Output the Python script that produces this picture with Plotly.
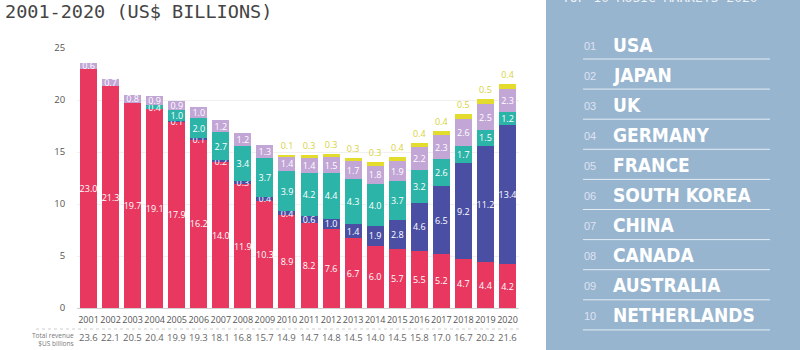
import plotly.graph_objects as go

years = [str(y) for y in range(2001, 2021)]
physical = [23.0, 21.3, 19.7, 19.1, 17.9, 16.2, 14.0, 11.9, 10.3, 8.9, 8.2, 7.6, 6.7, 6.0, 5.7, 5.5, 5.2, 4.7, 4.4, 4.2]
streaming = [0.0, 0.0, 0.0, 0.0, 0.1, 0.1, 0.2, 0.3, 0.4, 0.4, 0.6, 1.0, 1.4, 1.9, 2.8, 4.6, 6.5, 9.2, 11.2, 13.4]
downloads = [0.0, 0.0, 0.0, 0.4, 1.0, 2.0, 2.7, 3.4, 3.7, 3.9, 4.2, 4.4, 4.3, 4.0, 3.7, 3.2, 2.6, 1.7, 1.5, 1.2]
performance = [0.6, 0.7, 0.8, 0.9, 0.9, 1.0, 1.2, 1.2, 1.3, 1.4, 1.4, 1.5, 1.7, 1.8, 1.9, 2.2, 2.3, 2.6, 2.5, 2.3]
sync = [0.0, 0.0, 0.0, 0.0, 0.0, 0.0, 0.0, 0.0, 0.0, 0.1, 0.3, 0.3, 0.3, 0.3, 0.4, 0.4, 0.4, 0.5, 0.5, 0.4]
totals = [23.6, 22.1, 20.5, 20.4, 19.9, 19.3, 18.1, 16.8, 15.7, 14.9, 14.7, 14.8, 14.5, 14.0, 14.5, 15.8, 17.0, 16.7, 20.2, 21.6]
# which years show a label for a segment
streaming_shown = [False, False, False] + [True] * 17
downloads_shown = [False, False, False] + [True] * 17
sync_shown = [False] * 9 + [True] * 11

markets = ["USA", "JAPAN", "UK", "GERMANY", "FRANCE", "SOUTH KOREA", "CHINA", "CANADA", "AUSTRALIA", "NETHERLANDS"]
ranks = ["01", "02", "03", "04", "05", "06", "07", "08", "09", "10"]

RED = "#e8385f"
NAVY = "#4a4fa3"
TEAL = "#2cb4a8"
LILAC = "#c2a6d6"
YELLOW = "#e3dc2c"
PANEL = "#97b5cf"

W, H = 800, 350
def X(px):
    return px / W
def Y(py):
    return 1 - py / H

def labels(vals, shown=None):
    out = []
    for i, v in enumerate(vals):
        if shown is not None and not shown[i]:
            out.append("")
        else:
            out.append(f"{v:.1f}")
    return out

fig = go.Figure()
series = [
    ("Physical", physical, RED, None),
    ("Streaming", streaming, NAVY, streaming_shown),
    ("Downloads", downloads, TEAL, downloads_shown),
    ("Performance rights", performance, LILAC, None),
]
for name, vals, col, shown in series:
    fig.add_trace(go.Bar(
        x=years, y=vals, name=name, marker=dict(color=col, line=dict(width=0)),
        text=labels(vals, shown), textposition="inside", insidetextanchor="middle",
        constraintext="none", textangle=0,
        insidetextfont=dict(family="Open Sans", size=9, color="white"),
        hoverinfo="skip",
    ))
fig.add_trace(go.Bar(
    x=years, y=sync, name="Synchronisation", marker=dict(color=YELLOW, line=dict(width=0)),
    text=labels(sync, sync_shown), textposition="outside", constraintext="none", textangle=0,
    outsidetextfont=dict(family="Open Sans", size=9, color="#d9d23c"),
    cliponaxis=False, hoverinfo="skip",
))

shapes = []
# right panel
shapes.append(dict(type="rect", xref="paper", yref="paper", x0=X(546), x1=1.0, y0=0, y1=1,
                   fillcolor=PANEL, line=dict(width=0), layer="below"))
# separator above totals row
shapes.append(dict(type="line", xref="paper", yref="paper", x0=X(36), x1=X(520), y0=Y(329), y1=Y(329),
                   line=dict(color="#cfcfcf", width=1, dash="dot")))

annotations = []
annotations.append(dict(text="2001-2020 (US$ BILLIONS)", xref="paper", yref="paper", x=X(3), y=Y(12),
                        xanchor="left", yanchor="middle", showarrow=False,
                        font=dict(family="DejaVu Sans Mono", size=18.5, color="#444444")))
annotations.append(dict(text="TOP 10 MUSIC MARKETS 2020", xref="paper", yref="paper", x=X(560), y=Y(-2),
                        xanchor="left", yanchor="middle", showarrow=False,
                        font=dict(family="DejaVu Sans Mono", size=13, color="#eef3f8")))
annotations.append(dict(text="Total revenue<br>$US billions", xref="paper", yref="paper", x=X(76), y=Y(339),
                        xanchor="right", yanchor="middle", showarrow=False, align="right",
                        font=dict(family="Open Sans", size=6.5, color="#777777")))
for i, t in enumerate(totals):
    annotations.append(dict(text=f"{t:.1f}", xref="x", yref="paper", x=i, y=Y(337),
                            xanchor="center", yanchor="middle", showarrow=False,
                            font=dict(family="Open Sans", size=9.5, color="#666666")))

for i, (r, m) in enumerate(zip(ranks, markets)):
    cy = 45 + 30 * i
    ly = 59 + 30.1 * i
    annotations.append(dict(text=r, xref="paper", yref="paper", x=X(582), y=Y(cy + 1),
                            xanchor="left", yanchor="middle", showarrow=False,
                            font=dict(family="Liberation Sans", size=11, color="#dfe2f2")))
    annotations.append(dict(text=m, xref="paper", yref="paper", x=X(611), y=Y(cy),
                            xanchor="left", yanchor="middle", showarrow=False,
                            font=dict(family="DejaVu Sans Condensed, sans-serif",
                                      size=19, color="white", weight="bold")))
    shapes.append(dict(type="line", xref="paper", yref="paper", x0=X(583), x1=X(770), y0=Y(ly), y1=Y(ly),
                       line=dict(color="#e4ecf4", width=1)))

fig.update_layout(
    width=W, height=H,
    margin=dict(l=0, r=0, t=0, b=0),
    paper_bgcolor="white", plot_bgcolor="white",
    barmode="stack", bargap=0.23, showlegend=False,
    shapes=shapes, annotations=annotations,
    xaxis=dict(domain=[X(77), X(519)], type="category", showgrid=False, automargin=False,
               tickangle=0,
               tickfont=dict(family="Open Sans", size=9, color="#555555"),
               ticks="outside", ticklen=3, tickcolor="rgba(0,0,0,0)",
               showline=False, zeroline=False),
    yaxis=dict(domain=[Y(308), Y(48)], range=[0, 25], tickvals=[0, 5, 10, 15, 20, 25],
               showgrid=True, gridcolor="#f0f0f0", gridwidth=1, automargin=False,
               zeroline=True, zerolinecolor="#d0d0d0", zerolinewidth=1,
               tickfont=dict(family="Open Sans", size=9.5, color="#555555"),
               ticks="outside", ticklen=9, tickcolor="rgba(0,0,0,0)", showline=False),
)

fig.write_html("out.html")
